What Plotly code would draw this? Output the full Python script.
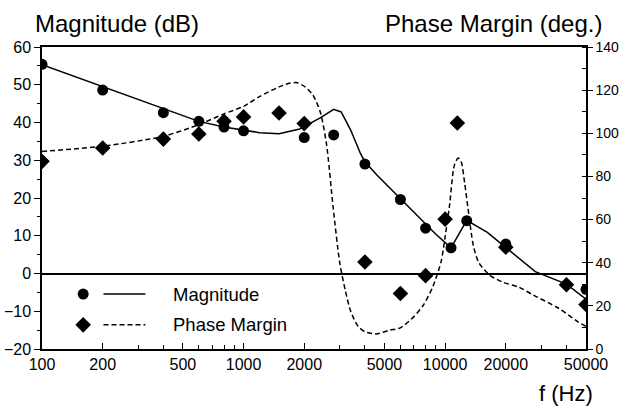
import plotly.graph_objects as go

# Measured magnitude points (dB)
mag_freq = [100, 200, 400, 600, 800, 1000, 2000, 2800, 4000, 6000, 8000, 10700, 12800, 20000, 50000]
mag_db = [55.4, 48.6, 42.6, 40.3, 38.8, 37.8, 36.0, 36.7, 29.0, 19.6, 12.0, 6.8, 14.0, 7.8, -4.2]

# Measured phase-margin points (deg.)
pm_freq = [100, 200, 400, 600, 800, 1000, 1500, 2000, 4000, 6000, 8000, 10000, 11500, 20000, 40000, 50000]
pm_deg = [87.0, 93.2, 97.3, 99.7, 105.6, 107.6, 109.4, 104.5, 40.3, 25.7, 34.0, 60.2, 104.8, 47.2, 29.8, 20.6]

# Model magnitude response
mag_fit_freq = [100, 200, 400, 600, 800, 1000, 1200, 1500, 1900, 2400, 2800, 3050, 3400, 3800,
                4000, 4600, 6000, 7500, 8000, 9000, 10700, 12800, 16200, 20000, 23500, 28000,
                40000, 50000]
mag_fit_db = [55.3, 49.5, 43.7, 40.3, 38.8, 38.0, 37.3, 37.0, 38.3, 41.2, 43.5, 42.8, 38.0, 31.8,
              29.6, 26.0, 19.8, 14.5, 13.2, 10.4, 6.8, 14.1, 10.9, 6.9, 3.8, 0.5,
              -2.8, -6.8]

# Model phase margin
pm_fit_freq = [100, 200, 400, 600, 800, 1000, 1200, 1500, 1700, 1850, 2000, 2200, 2400, 2580,
               2780, 3000, 3200, 3400, 3700, 4000, 4550, 5300, 6000, 7000, 7800, 8700, 9550,
               10000, 10500, 11100, 11600, 12000, 12500, 13000, 13800, 14700, 16600, 19300,
               23300, 27400, 36400, 45600, 50000]
pm_fit_deg = [91.6, 94.0, 98.6, 104.0, 109.0, 112.5, 117.0, 121.5, 123.3, 123.4, 121.8, 118.0,
              110.0, 95.0, 66.0, 40.0, 27.0, 17.5, 10.5, 8.0, 7.0, 8.7, 9.8, 15.0, 20.3, 29.0,
              40.5, 52.0, 66.0, 85.0, 88.5, 87.0, 77.0, 65.0, 48.0, 40.0, 34.3, 31.0, 28.6,
              25.0, 19.0, 12.6, 10.5]

x_tickvals = [100, 200, 500, 1000, 2000, 5000, 10000, 20000, 50000]
x_ticktext = ["100", "200", "500", "1000", "2000", "5000", "10000", "20000", "50000"]
x_minor = [300, 400, 600, 700, 800, 900, 3000, 4000, 6000, 7000, 8000, 9000, 30000, 40000]

FONT = "Liberation Sans, Arial, sans-serif"
LW = 1.5

fig = go.Figure()

fig.add_trace(go.Scatter(x=mag_fit_freq, y=mag_fit_db, mode="lines",
                         line=dict(color="black", width=LW), showlegend=False))
fig.add_trace(go.Scatter(x=pm_fit_freq, y=pm_fit_deg, mode="lines", yaxis="y2",
                         line=dict(color="black", width=LW, dash="5px,3px",
                                   shape="spline", smoothing=0.7),
                         showlegend=False))
fig.add_trace(go.Scatter(x=mag_freq, y=mag_db, mode="markers",
                         marker=dict(symbol="circle", size=11, color="black"),
                         showlegend=False))
fig.add_trace(go.Scatter(x=pm_freq, y=pm_deg, mode="markers", yaxis="y2",
                         marker=dict(symbol="diamond", size=12, color="black"),
                         showlegend=False))

# Hand-drawn key in the lower-left corner (helper axes spanning the plot area)
key_rows = [0.182, 0.080]
fig.add_trace(go.Scatter(x=[0.0757], y=[key_rows[0]], mode="markers", xaxis="x3", yaxis="y3",
                         marker=dict(symbol="circle", size=11, color="black"), showlegend=False))
fig.add_trace(go.Scatter(x=[0.0757], y=[key_rows[1]], mode="markers", xaxis="x3", yaxis="y3",
                         marker=dict(symbol="diamond", size=12, color="black"), showlegend=False))
fig.add_trace(go.Scatter(x=[0.113, 0.190], y=[key_rows[0]] * 2, mode="lines", xaxis="x3", yaxis="y3",
                         line=dict(color="black", width=LW), showlegend=False))
fig.add_trace(go.Scatter(x=[0.113, 0.190], y=[key_rows[1]] * 2, mode="lines", xaxis="x3", yaxis="y3",
                         line=dict(color="black", width=LW, dash="5px,3px"), showlegend=False))

annotations = [
    dict(text="Magnitude", x=0.237, y=key_rows[0], xanchor="left", yanchor="middle"),
    dict(text="Phase Margin", x=0.237, y=key_rows[1], xanchor="left", yanchor="middle"),
    dict(text="Magnitude (dB)", x=-0.016, y=1.079, xanchor="left", yanchor="middle",
         font=dict(size=24)),
    dict(text="Phase Margin (deg.)", x=1.033, y=1.079, xanchor="right", yanchor="middle",
         font=dict(size=24)),
    dict(text="f (Hz)", x=1.0165, y=-0.1457, xanchor="right", yanchor="middle",
         font=dict(size=22)),
]
for a in annotations:
    a.setdefault("font", dict(size=18.5))
    a["font"] = dict(family=FONT, color="black", **a["font"])
    a.update(xref="paper", yref="paper", showarrow=False)

fig.update_layout(
    width=619, height=406,
    margin=dict(l=41.5, r=33, t=47, b=57, autoexpand=False),
    paper_bgcolor="white", plot_bgcolor="white",
    font=dict(family=FONT, size=15, color="black"),
    annotations=annotations,
    xaxis=dict(
        type="log", range=[2, 4.69897], automargin=False,
        tickvals=x_tickvals, ticktext=x_ticktext,
        ticks="inside", ticklen=6, tickwidth=1.2, tickcolor="black",
        minor=dict(tickvals=x_minor, ticks="inside", ticklen=4, tickwidth=1, tickcolor="black"),
        showgrid=False, zeroline=False,
        showline=True, linecolor="black", linewidth=LW, mirror=True,
        tickfont=dict(size=16),
    ),
    yaxis=dict(
        range=[-20, 60], tickvals=list(range(-20, 61, 10)), automargin=False,
        ticks="outside", ticklen=6, tickwidth=1.2, tickcolor="black",
        minor=dict(dtick=5, ticks="outside", ticklen=3, tickwidth=1, tickcolor="black"),
        showgrid=False,
        zeroline=True, zerolinecolor="black", zerolinewidth=LW,
        showline=True, linecolor="black", linewidth=LW,
        tickfont=dict(size=16),
    ),
    yaxis2=dict(
        overlaying="y", side="right", automargin=False,
        range=[0, 140], tickvals=list(range(0, 141, 20)),
        ticks="outside", ticklen=5, tickwidth=1.2, tickcolor="black",
        minor=dict(dtick=10, ticks="inside", ticklen=4, tickwidth=1, tickcolor="black"),
        showgrid=False, zeroline=False,
        showline=True, linecolor="black", linewidth=LW,
        tickfont=dict(size=14),
    ),
    xaxis3=dict(overlaying="x", range=[0, 1], visible=False),
    yaxis3=dict(overlaying="y", range=[0, 1], visible=False),
)

fig.write_html("out.html")
